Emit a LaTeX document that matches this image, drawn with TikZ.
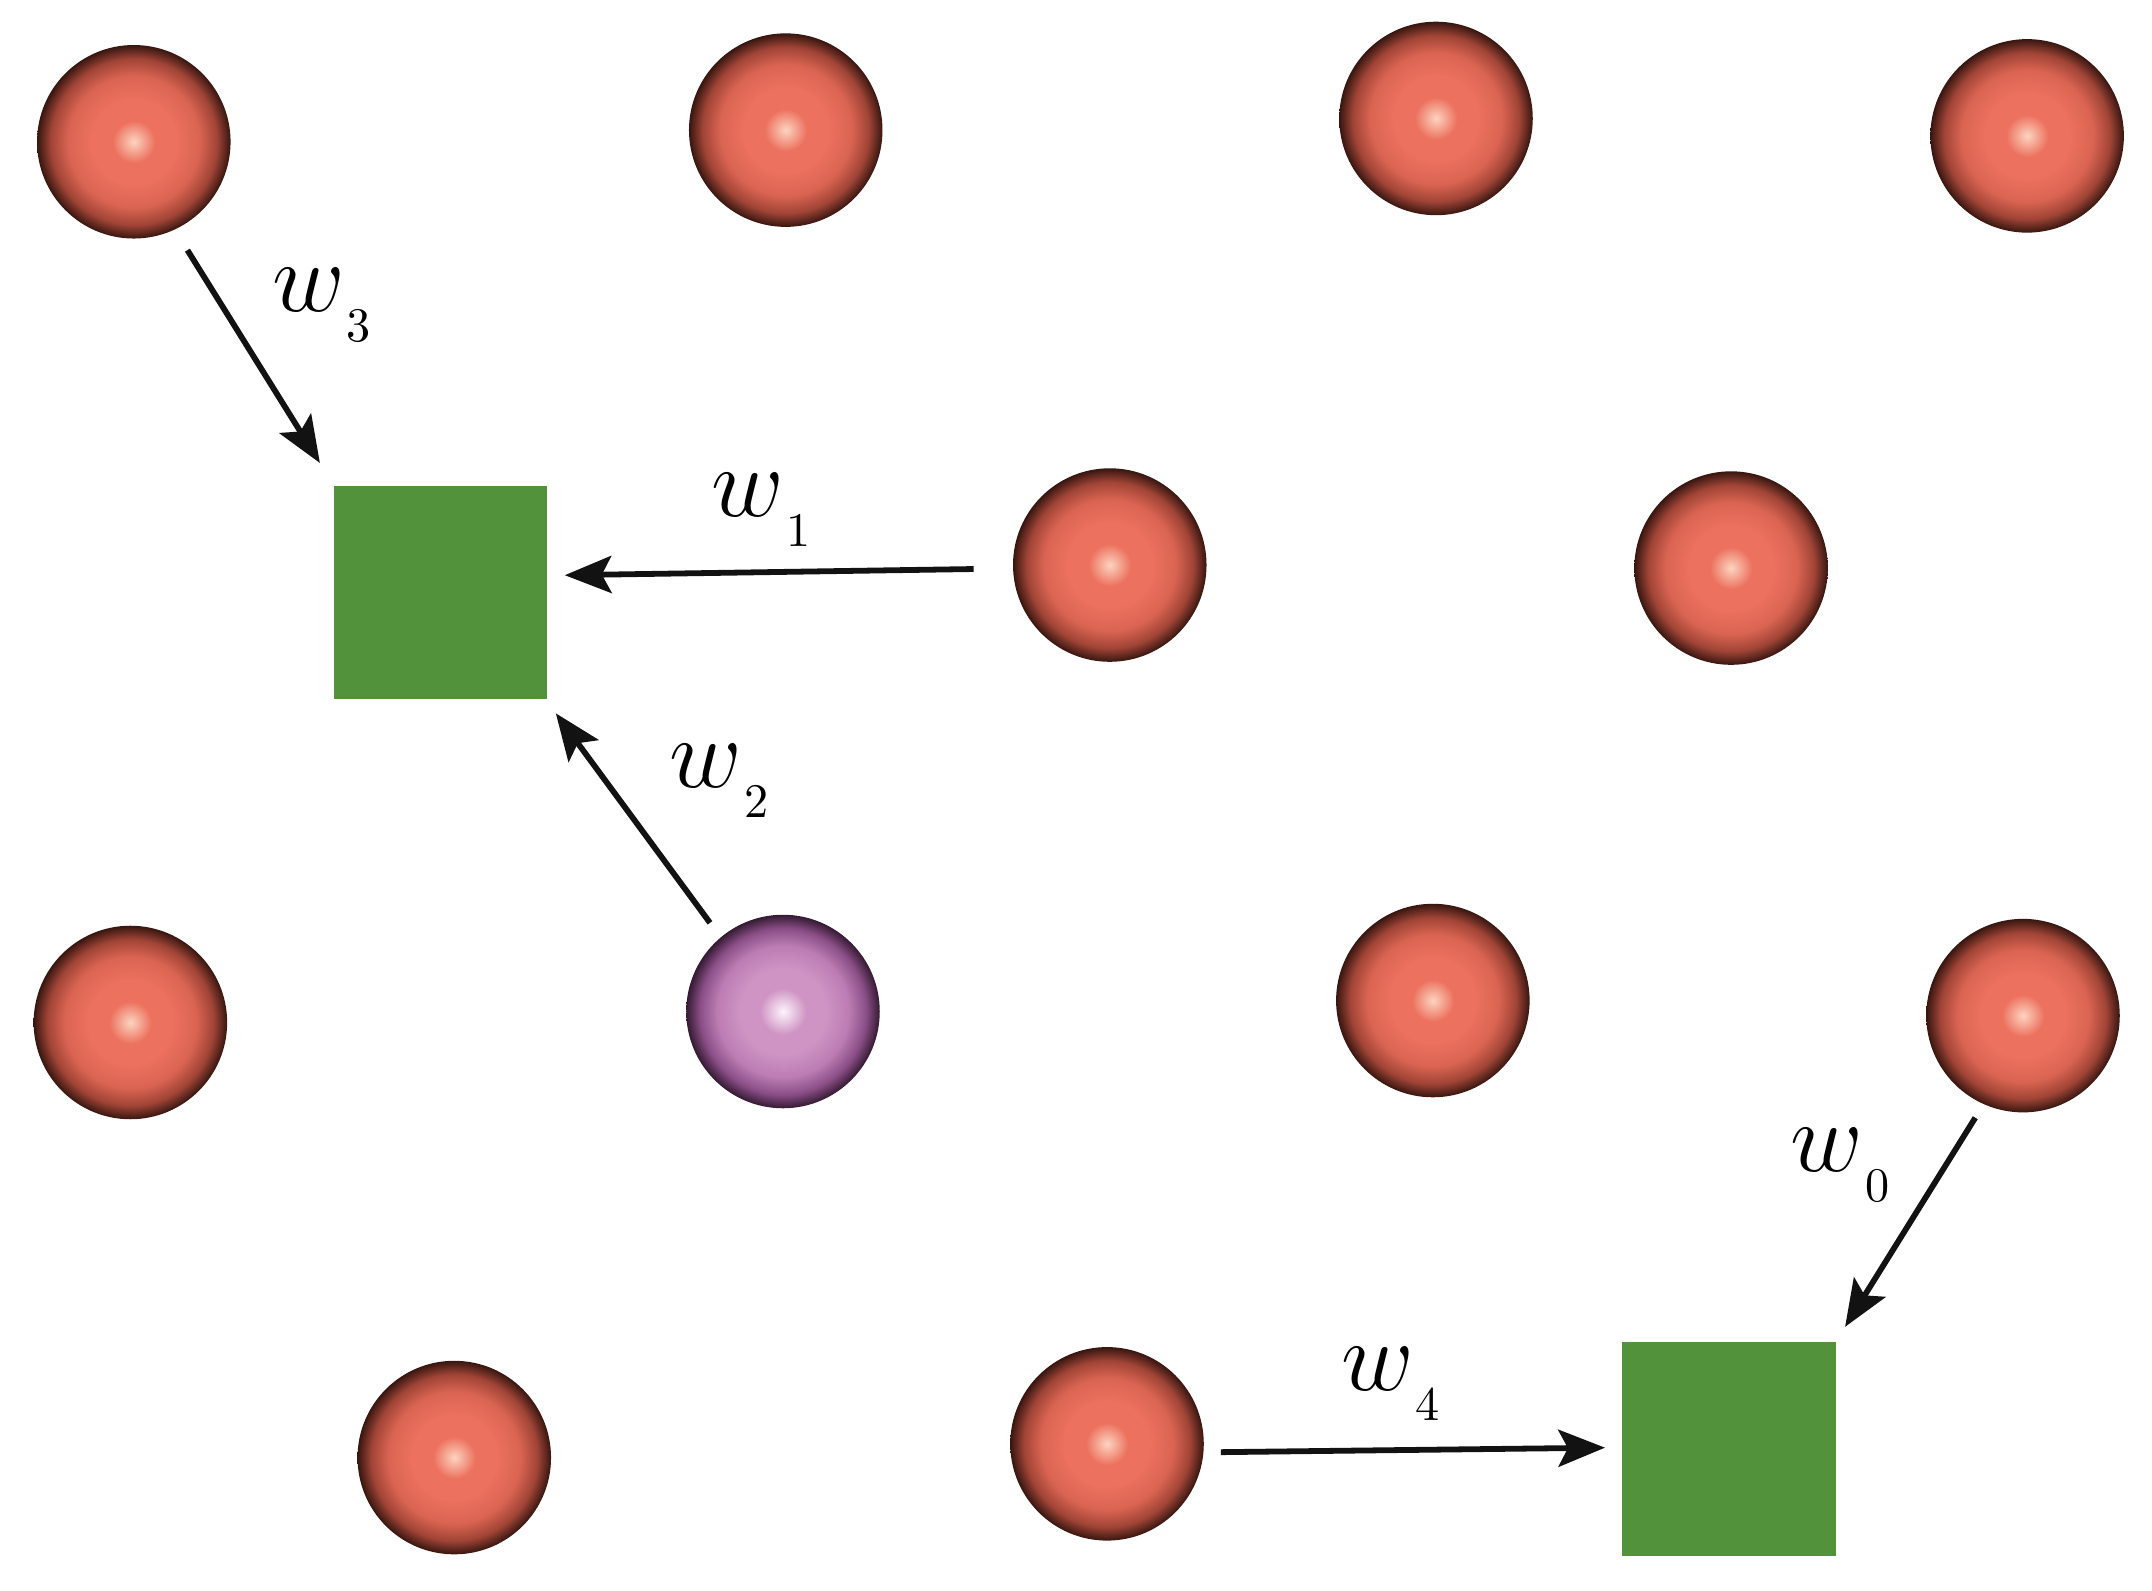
\documentclass[tikz,border=0pt]{standalone}
\usepackage{amsmath}
\usepackage{tikz}
\usetikzlibrary{arrows.meta, positioning}
\definecolor{BallLight}{RGB}{252,212,192}
\definecolor{BallRed}{RGB}{236,113,94}
\definecolor{BallRedMid}{RGB}{218,100,82}
\definecolor{BallRedDark}{RGB}{160,68,54}
\definecolor{BallRedEdge}{RGB}{55,22,16}
\definecolor{ProbeLight}{RGB}{253,244,252}
\definecolor{ProbeMain}{RGB}{207,148,196}
\definecolor{ProbeMid}{RGB}{188,124,180}
\definecolor{ProbeDark}{RGB}{138,78,134}
\definecolor{ProbeEdge}{RGB}{52,26,50}
\definecolor{FactorGreen}{RGB}{82,146,58}
\definecolor{WireColor}{RGB}{18,18,18}
\pgfdeclareradialshading{redball}{\pgfpoint{0bp}{0bp}}{color(0bp)=(BallLight); color(5.5bp)=(BallRed); color(11bp)=(BallRed); color(17bp)=(BallRedMid); color(21.5bp)=(BallRedDark); color(25bp)=(BallRedEdge); color(50bp)=(BallRedEdge)}
\pgfdeclareradialshading{purpleball}{\pgfpoint{0bp}{0bp}}{color(0bp)=(ProbeLight); color(6bp)=(ProbeMain); color(11bp)=(ProbeMain); color(17bp)=(ProbeMid); color(21.5bp)=(ProbeDark); color(25bp)=(ProbeEdge); color(50bp)=(ProbeEdge)}
\newcommand{\weight}[1]{$w$\kern0.4pt\raisebox{-6.2pt}{\fontsize{10}{12}\selectfont #1}}
\tikzstyle{wire} = [line width=1.2pt, WireColor, -{Stealth[length=3.4mm, width=2.7mm, inset=0.7mm]}]
\tikzset{
  sphere/.style={circle, minimum size=1.41cm, inner sep=0pt, shading=redball},
  probe/.style={circle, minimum size=1.41cm, inner sep=0pt, shading=purpleball},
  factor/.style={rectangle, minimum size=1.555cm, inner sep=0pt, fill=FactorGreen},
  weight label/.style={font=\fontsize{20}{24}\selectfont, inner sep=0pt, anchor=base west}
}
\begin{document}
\begin{tikzpicture}
            \useasboundingbox (0,0) rectangle (15.68,11.59);

            % Red spheres
            \foreach \n/\x/\y in {a1/0.975/10.557, a2/5.725/10.642, a3/10.463/10.727, a4/14.77/10.60, b1/8.086/7.473, b2/12.613/7.451, c1/0.95/4.14, c3/10.44/4.30, c4/14.74/4.19, d1/3.31/0.97, d2/8.066/1.07} {
                    \node[sphere] (\n) at (\x,\y) {};
                }

            % Purple sphere
            \node[probe] (c2) at (5.705,4.22) {};

            % Green squares
            \node[factor] (f1) at (3.2105,7.274) {};
            \node[factor] (f2) at (12.599,1.032) {};

            % Weighted arrows
            \draw[wire, shorten <=1.7mm] (a1.-65.5) -- ([xshift=-0.95mm, yshift=1.58mm]f1.north west);
            \draw[wire, shorten <=2.8mm] (b1.182) -- ([xshift=1.2mm, yshift=1.25mm]f1.east);
            \draw[wire, shorten <=1.25mm] (c2.130.5) -- ([xshift=0.55mm, yshift=-0.97mm]f1.south east);
            \draw[wire, shorten <=1.1mm] (c4.-114.7) -- ([xshift=0.6mm, yshift=1.06mm]f2.north east);
            \draw[wire, shorten <=1.2mm] (d2.-5) -- ([xshift=-1.2mm, yshift=0.1mm]f2.west);

            % Weights
            \node[weight label] (l3) at (1.975,9.321) {\weight{3}};
            \node[weight label] (l1) at (5.18,7.825) {\weight{1}};
            \node[weight label] (l2) at (4.87,5.855) {\weight{2}};
            \node[weight label] (l0) at (13.04,3.055) {\weight{0}};
            \node[weight label] (l4) at (9.766,1.457) {\weight{4}};
        \end{tikzpicture}
\end{document}
